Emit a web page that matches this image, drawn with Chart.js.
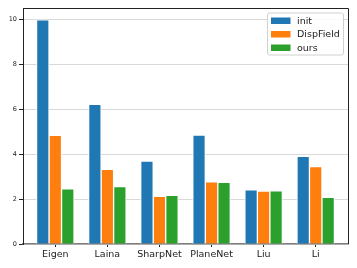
<!DOCTYPE html>
<html>
<head>
<meta charset="utf-8">
<script src="https://cdn.jsdelivr.net/npm/chart.js@4.4.1/dist/chart.umd.min.js"></script>
<style>
  html, body { margin: 0; padding: 0; background: #fff; }
  canvas { display: block; }
</style>
</head>
<body>
<canvas id="bars" width="357" height="268"></canvas>
<script>
// values
const methods = ['Eigen', 'Laina', 'SharpNet', 'PlaneNet', 'Liu', 'Li'];
const initVals = [9.97, 6.21, 3.69, 4.85, 2.41, 3.90];
const dispFieldVals = [4.83, 3.32, 2.12, 2.77, 2.36, 3.44];
const oursVals = [2.46, 2.56, 2.16, 2.74, 2.37, 2.08];
const yTicks = [0, 2, 4, 6, 8, 10];

const seriesNames = ['init', 'DispField', 'ours'];
const seriesColors = ['#1f77b4', '#ff7f0e', '#2ca02c'];

Chart.defaults.font.family = "'DejaVu Sans', sans-serif";
Chart.defaults.color = '#222';

const toPoints = vals => vals.map((v, i) => ({ x: i, y: v }));

// frame: top and right spines
const framePlugin = {
  id: 'frame',
  afterDatasetsDraw(chart) {
    const { ctx, chartArea: a } = chart;
    ctx.save();
    ctx.strokeStyle = '#222';
    ctx.lineWidth = 1;
    ctx.beginPath();
    ctx.moveTo(a.left, a.top + 0.5);
    ctx.lineTo(a.right + 0.5, a.top + 0.5);
    ctx.lineTo(a.right + 0.5, a.bottom);
    ctx.stroke();
    ctx.restore();
  }
};

// legend drawn inside the plot, upper right like matplotlib
const innerLegend = {
  id: 'innerLegend',
  afterDraw(chart) {
    const { ctx } = chart;
    const x = 267, y = 12.5, w = 76, h = 42, r = 2;
    ctx.save();
    ctx.fillStyle = 'rgba(255,255,255,0.85)';
    ctx.strokeStyle = '#d0d0d0';
    ctx.lineWidth = 1;
    ctx.beginPath();
    ctx.roundRect(x + 0.5, y + 0.5, w, h, r);
    ctx.fill();
    ctx.stroke();
    ctx.font = "9.5px 'DejaVu Sans'";
    ctx.textBaseline = 'middle';
    chart.data.datasets.forEach((ds, i) => {
      const cy = 20.7 + i * 13.5;
      ctx.fillStyle = ds.backgroundColor;
      ctx.fillRect(271, cy - 3.2, 19.5, 6.5);
      ctx.fillStyle = '#222';
      ctx.fillText(ds.label, 297, cy + 0.5);
    });
    ctx.restore();
  }
};

const valueSets = [initVals, dispFieldVals, oursVals];

new Chart(document.getElementById('bars'), {
  type: 'bar',
  data: {
    datasets: seriesNames.map((name, i) => ({
      label: name,
      data: toPoints(valueSets[i]),
      backgroundColor: seriesColors[i],
      borderColor: '#fff',
      borderWidth: 1,
      borderSkipped: 'start',
      barThickness: 12.5
    }))
  },
  options: {
    responsive: false,
    devicePixelRatio: 1,
    animation: false,
    layout: { padding: { top: 8, right: 9, left: 0, bottom: 0 } },
    plugins: {
      legend: { display: false },
      tooltip: { enabled: false }
    },
    scales: {
      x: {
        type: 'linear',
        offset: false,
        min: -0.62,
        max: 5.62,
        afterBuildTicks: s => { s.ticks = methods.map((_, i) => ({ value: i })); },
        afterFit: s => { s.height = 24; },
        ticks: {
          callback: v => methods[v],
          font: { size: 9.5 },
          padding: 2,
          maxRotation: 0,
          autoSkip: false
        },
        grid: { offset: false, drawOnChartArea: false, tickLength: 3, tickColor: '#222' },
        border: { color: '#7f7f7f', width: 1.5 }
      },
      y: {
        min: 0,
        max: 10.5,
        afterBuildTicks: s => { s.ticks = yTicks.map(v => ({ value: v })); },
        afterFit: s => { s.width = 23; },
        ticks: { font: { size: 6.5 }, padding: 2 },
        grid: { color: '#d9d9d9', lineWidth: 1, tickLength: 4, tickColor: '#222' },
        border: { color: '#222', width: 1 }
      }
    }
  },
  plugins: [framePlugin, innerLegend]
});
</script>
</body>
</html>
